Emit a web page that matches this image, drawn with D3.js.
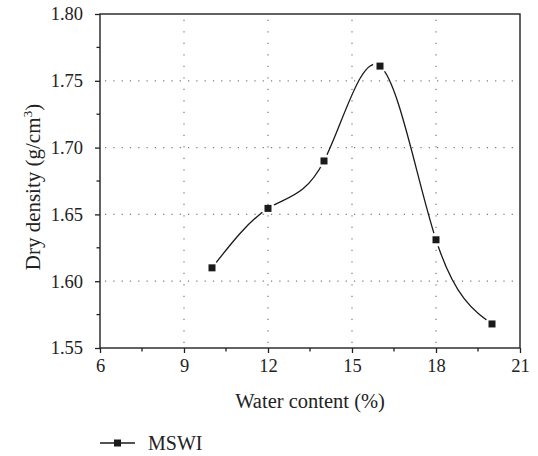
<!DOCTYPE html>
<html>
<head>
<meta charset="utf-8">
<script src="https://cdn.jsdelivr.net/npm/d3@7"></script>
<style>
  html, body { margin: 0; padding: 0; background: #fff; }
  svg { display: block; }
  text { font-family: "Liberation Serif", "DejaVu Serif", serif; fill: #222; }
</style>
</head>
<body>
<svg id="chart" width="538" height="456"></svg>
<script>
// ---- data ----
const waterContent = [10, 12, 14, 16, 18, 20];
const dryDensity = [1.610, 1.6545, 1.690, 1.761, 1.631, 1.568];
const seriesName = "MSWI";
const xTicks = [6, 9, 12, 15, 18, 21];
const yTicks = [1.55, 1.60, 1.65, 1.70, 1.75, 1.80];
const xLabel = "Water content (%)";
const yLabelMain = "Dry density (g/cm";
const yLabelSup = "3";

// ---- layout ----
const margin = { left: 100, top: 14, right: 18, bottom: 108 };
const W = 538, H = 456;
const svg = d3.select("#chart");
const x = d3.scaleLinear().domain([6, 21]).range([margin.left, W - margin.right]);
const y = d3.scaleLinear().domain([1.55, 1.80]).range([H - margin.bottom, margin.top]);
const x0 = x.range()[0], x1 = x.range()[1], y0 = y.range()[0], y1 = y.range()[1];
const ink = "#222";

// grid
const grid = svg.append("g");
grid.selectAll(".gx").data(xTicks.filter(d => d > 6 && d < 21)).join("line")
  .attr("x1", d => x(d)).attr("x2", d => x(d)).attr("y1", y0).attr("y2", y1)
  .attr("stroke", "#7a7a7a").attr("stroke-width", 1.2).attr("stroke-dasharray", "1.2,10.3")
  .attr("stroke-dashoffset", -5);
grid.selectAll(".gy").data(yTicks.filter(d => d > 1.56 && d < 1.79)).join("line")
  .attr("x1", x0).attr("x2", x1).attr("y1", d => y(d)).attr("y2", d => y(d))
  .attr("stroke", "#7a7a7a").attr("stroke-width", 1.2).attr("stroke-dasharray", "1.2,7.1")
  .attr("stroke-dashoffset", -5);

// mask for line gaps around markers
const defs = svg.append("defs");
const mask = defs.append("mask").attr("id", "gapmask").attr("maskUnits", "userSpaceOnUse")
  .attr("x", 0).attr("y", 0).attr("width", W).attr("height", H);
mask.append("rect").attr("width", W).attr("height", H).attr("fill", "#fff");
mask.selectAll("circle").data(waterContent).join("circle")
  .attr("cx", (d) => x(d)).attr("cy", (d, i) => y(dryDensity[i])).attr("r", 7).attr("fill", "#000");

const pts = waterContent.map((d, i) => [d, dryDensity[i]]);
const line = d3.line().x(d => x(d[0])).y(d => y(d[1])).curve(d3.curveNatural);
svg.append("path").attr("d", line(pts)).attr("fill", "none").attr("stroke", "#1a1a1a")
  .attr("stroke-width", 1.3).attr("mask", "url(#gapmask)");

svg.selectAll(".pt").data(pts).join("rect")
  .attr("x", d => x(d[0]) - 3.5).attr("y", d => y(d[1]) - 3.5)
  .attr("width", 7).attr("height", 7).attr("fill", "#1a1a1a");

// axes
const xAxis = d3.axisBottom(x).tickValues(xTicks).tickSize(5).tickPadding(6).tickFormat(d3.format("d"));
const gx = svg.append("g").attr("transform", `translate(0,${y0})`).call(xAxis);
const xMinor = d3.range(0, xTicks.length - 1).map(i => (xTicks[i] + xTicks[i + 1]) / 2);
gx.selectAll(".minor").data(xMinor).join("line").attr("class", "minor")
  .attr("x1", d => x(d)).attr("x2", d => x(d)).attr("y1", 0).attr("y2", 3.5)
  .attr("stroke", ink).attr("stroke-width", 1.3);

const yAxis = d3.axisLeft(y).tickValues(yTicks).tickSize(5).tickPadding(12).tickFormat(d3.format(".2f"));
const gy = svg.append("g").attr("transform", `translate(${x0},0)`).call(yAxis);
const yMinor = d3.range(0, yTicks.length - 1).map(i => (yTicks[i] + yTicks[i + 1]) / 2);
gy.selectAll(".minor").data(yMinor).join("line").attr("class", "minor")
  .attr("x1", 0).attr("x2", -3.5).attr("y1", d => y(d)).attr("y2", d => y(d))
  .attr("stroke", ink).attr("stroke-width", 1.3);

[gx, gy].forEach(g => {
  g.select(".domain").remove();
  g.selectAll(".tick line").attr("stroke", ink).attr("stroke-width", 1.3);
  g.selectAll(".tick text").attr("font-family", "Liberation Serif, serif").attr("font-size", 18.5).attr("fill", ink);
});
gx.selectAll(".tick text").attr("dy", "0.71em");

// frame
svg.append("rect").attr("x", x0).attr("y", y1).attr("width", x1 - x0).attr("height", y0 - y1)
  .attr("fill", "none").attr("stroke", ink).attr("stroke-width", 1.4);

// labels
svg.append("text").attr("x", (x0 + x1) / 2).attr("y", 408).attr("text-anchor", "middle")
  .attr("font-size", 20.5).text(xLabel);

const ylg = svg.append("g").attr("transform", `translate(40,${(y0 + y1) / 2 + 6}) rotate(-90)`);
const yl = ylg.append("text").attr("x", 0).attr("y", 0).attr("font-size", 21);
yl.append("tspan").text(yLabelMain);
yl.append("tspan").attr("font-size", 13.5).attr("dy", -8).text(yLabelSup);
yl.append("tspan").attr("dy", 8).text(")");
const bb = yl.node().getBBox();
yl.attr("x", -bb.width / 2);

// legend
const lg = svg.append("g").attr("transform", "translate(100,443)");
lg.append("line").attr("x1", 0).attr("x2", 35).attr("y1", 0).attr("y2", 0).attr("stroke", "#1a1a1a").attr("stroke-width", 1.3);
lg.append("rect").attr("x", 17.5 - 3.5).attr("y", -3.5).attr("width", 7).attr("height", 7).attr("fill", "#1a1a1a");
lg.append("text").attr("x", 48).attr("y", 0).attr("dy", "0.35em").attr("font-size", 20).text(seriesName);
</script>
</body>
</html>
